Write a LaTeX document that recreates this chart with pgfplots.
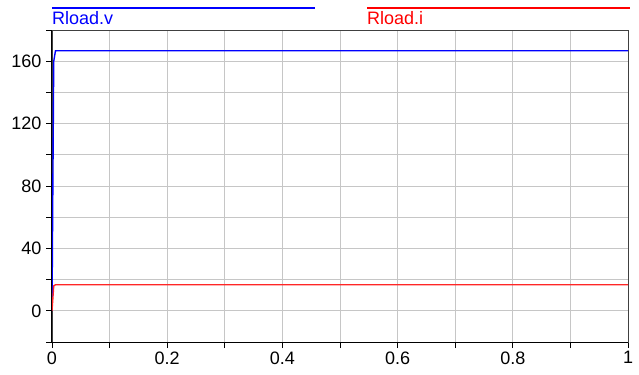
\documentclass[border=0pt]{standalone}
\usepackage{pgfplots}
\pgfplotsset{compat=1.18}
\usepackage{fontspec}
\setmainfont{Liberation Sans}
\begin{document}
\begin{tikzpicture}[x=1bp,y=1bp]
\begin{axis}[
  at={(0,0)}, anchor=south west,
  scale only axis, width=576bp, height=312bp,
  xmin=0, xmax=1, ymin=-20, ymax=180,
  xtick={0,0.2,0.4,0.6,0.8,1},
  xticklabels={0,0.2,0.4,0.6,0.8,1},
  minor xtick={0.1,0.3,0.5,0.7,0.9},
  ytick={0,40,80,120,160},
  minor ytick={-20,20,60,100,140,180},
  grid=both,
  major grid style={gray!45, line width=0.9bp},
  minor grid style={gray!45, line width=0.9bp},
  tick align=outside,
  major tick length=6bp, minor tick length=6bp,
  tick style={black, line width=0.9bp},
  xtick pos=bottom, ytick pos=left,
  axis line style={line width=0.9bp, black!75},
  /pgf/number format/assume math mode=true,
  tick label style={font=\fontsize{18bp}{20bp}\selectfont},
  yticklabel style={xshift=-1bp},
  clip=false,
]
\addplot[blue, line width=1.4bp] coordinates {(0,0) (0.003,160) (0.006,166.67) (1,166.67)};
\addplot[red!85, line width=1.4bp] coordinates {(0,0) (0.003,16) (0.006,16.67) (1,16.67)};
\draw[black, line width=1bp] (rel axis cs:0,0) -- (rel axis cs:0,1);
\draw[black, line width=1bp] (rel axis cs:0,0) -- (rel axis cs:1,0);
\end{axis}
\draw[color=blue, line width=1.4bp] (0,334) -- (263,334);
\node[anchor=base west, inner sep=0pt, text=blue, font=\fontsize{18bp}{20bp}\selectfont] at (0,318) {Rload.v};
\draw[color=red, line width=1.4bp] (315,334) -- (578,334);
\node[anchor=base west, inner sep=0pt, text=red, font=\fontsize{18bp}{20bp}\selectfont] at (315,318) {Rload.i};
\pgfresetboundingbox
\path (-52,-32) rectangle (587,342);
\end{tikzpicture}
\end{document}
